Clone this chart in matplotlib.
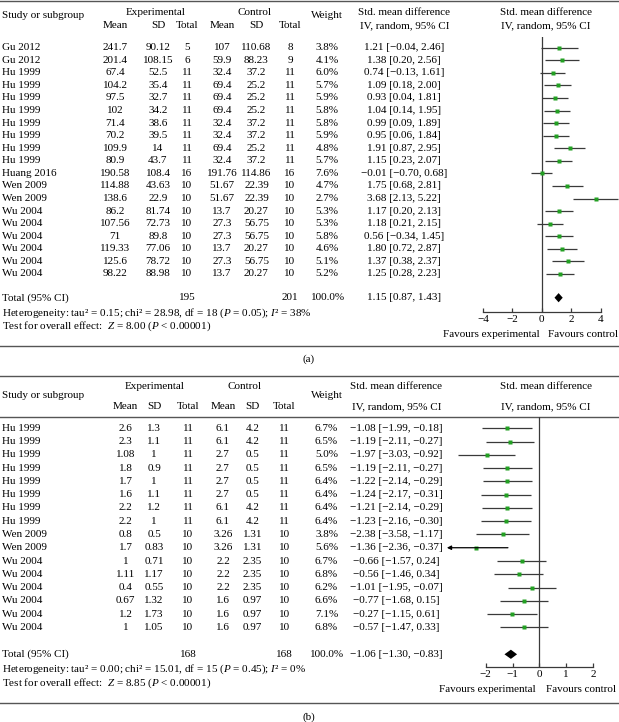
import numpy as np
import matplotlib
matplotlib.use('Agg')
import matplotlib.pyplot as plt

plt.rcParams['font.family'] = ['Liberation Serif', 'DejaVu Serif']
plt.rcParams['mathtext.fontset'] = 'custom'
plt.rcParams['mathtext.it'] = 'Liberation Serif:italic'
plt.rcParams['mathtext.rm'] = 'Liberation Serif'
FS = 8
LINE = '#3a3a3a'
GREEN = '#23a023'

# ---------------- panel (a) data ----------------
study_a = ['Gu 2012', 'Gu 2012'] + ['Hu 1999'] * 8 + ['Huang 2016', 'Wen 2009', 'Wen 2009'] + ['Wu 2004'] * 6
exp_mean_a = [241.7, 201.4, 67.4, 104.2, 97.5, 102, 71.4, 70.2, 109.9, 80.9, 190.58, 114.88, 138.6,
              86.2, 107.56, 71, 119.33, 125.6, 98.22]
exp_sd_a = [90.12, 108.15, 52.5, 35.4, 32.7, 34.2, 38.6, 39.5, 14, 43.7, 108.4, 43.63, 22.9,
            81.74, 72.73, 89.8, 77.06, 78.72, 88.98]
exp_n_a = [5, 6, 11, 11, 11, 11, 11, 11, 11, 11, 16, 10, 10, 10, 10, 10, 10, 10, 10]
ctl_mean_a = [107, 59.9, 32.4, 69.4, 69.4, 69.4, 32.4, 32.4, 69.4, 32.4, 191.76, 51.67, 51.67,
              13.7, 27.3, 27.3, 13.7, 27.3, 13.7]
ctl_sd_a = [110.68, 88.23, 37.2, 25.2, 25.2, 25.2, 37.2, 37.2, 25.2, 37.2, 114.86, 22.39, 22.39,
            20.27, 56.75, 56.75, 20.27, 56.75, 20.27]
ctl_n_a = [8, 9, 11, 11, 11, 11, 11, 11, 11, 11, 16, 10, 10, 10, 10, 10, 10, 10, 10]
weight_a = [3.8, 4.1, 6.0, 5.7, 5.9, 5.8, 5.8, 5.9, 4.8, 5.7, 7.6, 4.7, 2.7, 5.3, 5.3, 5.8, 4.6, 5.1, 5.2]
smd_a = [1.21, 1.38, 0.74, 1.09, 0.93, 1.04, 0.99, 0.95, 1.91, 1.15, -0.01, 1.75, 3.68, 1.17, 1.18, 0.56, 1.80, 1.37, 1.25]
lo_a = [-0.04, 0.20, -0.13, 0.18, 0.04, 0.14, 0.09, 0.06, 0.87, 0.23, -0.70, 0.68, 2.13, 0.20, 0.21, -0.34, 0.72, 0.38, 0.28]
hi_a = [2.46, 2.56, 1.61, 2.00, 1.81, 1.95, 1.89, 1.84, 2.95, 2.07, 0.68, 2.81, 5.22, 2.13, 2.15, 1.45, 2.87, 2.37, 2.23]
# which study each drawn row of the plot shows (as printed in the source)
drawn_a = [0, 1, 2, 3, 4, 5, 6, 7, 8, 9, 10, 11, 12, 13, 15, 14, 17, 16, 18]
total_a = (195, 201, 1.15, 0.87, 1.43)
het_a = 'Heterogeneity: tau\u00b2 = 0.15; chi\u00b2 = 28.98, df = 18 ($P$ = 0.05); $I$\u00b2 = 38%'
test_a = 'Test for overall effect:  $Z$ = 8.00 ($P$ < 0.00001)'
ticks_a = [-4, -2, 0, 2, 4]

# ---------------- panel (b) data ----------------
study_b = ['Hu 1999'] * 8 + ['Wen 2009'] * 2 + ['Wu 2004'] * 6
exp_mean_b = [2.6, 2.3, 1.08, 1.8, 1.7, 1.6, 2.2, 2.2, 0.8, 1.7, 1, 1.11, 0.4, 0.67, 1.2, 1]
exp_sd_b = [1.3, 1.1, 1, 0.9, 1, 1.1, 1.2, 1, 0.5, 0.83, 0.71, 1.17, 0.55, 1.32, 1.73, 1.05]
exp_n_b = [11] * 8 + [10] * 8
ctl_mean_b = [6.1, 6.1, 2.7, 2.7, 2.7, 2.7, 6.1, 6.1, 3.26, 3.26, 2.2, 2.2, 2.2, 1.6, 1.6, 1.6]
ctl_sd_b = [4.2, 4.2, 0.5, 0.5, 0.5, 0.5, 4.2, 4.2, 1.31, 1.31, 2.35, 2.35, 2.35, 0.97, 0.97, 0.97]
ctl_n_b = [11] * 8 + [10] * 8
weight_b = [6.7, 6.5, 5.0, 6.5, 6.4, 6.4, 6.4, 6.4, 3.8, 5.6, 6.7, 6.8, 6.2, 6.6, 7.1, 6.8]
smd_b = [-1.08, -1.19, -1.97, -1.19, -1.22, -1.24, -1.21, -1.23, -2.38, -1.36, -0.66, -0.56, -1.01, -0.77, -0.27, -0.57]
lo_b = [-1.99, -2.11, -3.03, -2.11, -2.14, -2.17, -2.14, -2.16, -3.58, -2.36, -1.57, -1.46, -1.95, -1.68, -1.15, -1.47]
hi_b = [-0.18, -0.27, -0.92, -0.27, -0.29, -0.31, -0.29, -0.30, -1.17, -0.37, 0.24, 0.34, -0.07, 0.15, 0.61, 0.33]
drawn_b = [4, 0, 2, 1, 3, 5, 6, 7, 9, 8, 10, 13, 14, 11, 12, 15]
total_b = (168, 168, -1.06, -1.30, -0.83)
het_b = 'Heterogeneity: tau\u00b2 = 0.00; chi\u00b2 = 15.01, df = 15 ($P$ = 0.45); $I$\u00b2 = 0%'
test_b = 'Test for overall effect:  $Z$ = 8.85 ($P$ < 0.00001)'
ticks_b = [-2, -1, 0, 1, 2]

W, H = 619, 722
fig = plt.figure(figsize=(W / 100, H / 100), dpi=100)
bg = fig.add_axes([0, 0, 1, 1])
bg.set_xlim(0, W)
bg.set_ylim(H, 0)
bg.axis('off')


def num(v):
    return f'{v:g}'


def ci(e, l, h):
    return f'{e:.2f} [{l:.2f}, {h:.2f}]'.replace('-', '\u2212')


def txt(x, y, s, ha='center'):
    bg.text(x, y, s, ha=ha, va='center', fontsize=FS)


def panel(L, data, ticks, drawn, clip=None):
    (study, em, es, en, cm, cs, cn, wt, smd, lo, hi, tot, het, test) = data
    # header
    txt(L['exp'], L['h1'], 'Experimental')
    txt(L['ctrl'], L['h1'], 'Control')
    txt(2, L['hm'], 'Study or subgroup', ha='left')
    txt(L['wt'], L['hm'], 'Weight')
    for x, s in zip(L['cols'], ['Mean', 'SD', 'Total'] * 2):
        txt(x, L['h2'], s)
    txt(L['ci'], L['h1'], 'Std. mean difference')
    txt(L['ci'] + 1, L['h2'], 'IV, random, 95% CI')
    txt(546, L['h1'], 'Std. mean difference')
    txt(546, L['h2'], 'IV, random, 95% CI')
    # study rows
    for i in range(len(study)):
        y = L['r0'] + i * L['dy']
        txt(2, y, study[i], ha='left')
        vals = [num(em[i]), num(es[i]), str(en[i]), num(cm[i]), num(cs[i]), str(cn[i])]
        for x, s in zip(L['cols'], vals):
            txt(x, y, s)
        txt(L['wt'], y, f'{wt[i]:.1f}%')
        txt(L['ci'], y, ci(smd[i], lo[i], hi[i]))
    # total rows
    txt(2, L['tot'], 'Total (95% CI)', ha='left')
    txt(L['cols'][2], L['tot'], str(tot[0]))
    txt(L['cols'][5], L['tot'], str(tot[1]))
    txt(L['wt'] + 1, L['tot'], '100.0%')
    txt(L['ci'], L['tot'], ci(*tot[2:]))
    txt(2, L['het'], het, ha='left')
    txt(2, L['test'], test, ha='left')
    txt(L['fav'][0], L['favy'], 'Favours experimental')
    txt(L['fav'][1], L['favy'], 'Favours control')

    # forest plot axes
    x0, x1 = 432, W
    top, bot = L['ftop'], L['axy']
    ax = fig.add_axes([x0 / W, 1 - bot / H, (x1 - x0) / W, (bot - top) / H])
    ax.patch.set_alpha(0)
    ax.set_xlim((x0 - L['zero']) / L['ppu'], (x1 - L['zero']) / L['ppu'])
    ax.set_ylim((bot - L['r0']) / L['dy'], (top - L['r0']) / L['dy'])
    for s in ['top', 'left', 'right']:
        ax.spines[s].set_visible(False)
    ax.spines['bottom'].set_bounds(ticks[0], ticks[-1])
    ax.spines['bottom'].set_color(LINE)
    ax.spines['bottom'].set_linewidth(0.9)
    ax.set_yticks([])
    ax.set_xticks(ticks)
    ax.set_xticklabels([str(t).replace('-', '\u2212') for t in ticks], fontsize=FS)
    ax.tick_params(axis='x', direction='in', length=3, width=0.9, color=LINE, pad=2.5)
    ax.axvline(0, color=LINE, lw=0.9)

    rows = np.arange(len(drawn))
    e = np.array(smd)[drawn]
    l = np.array(lo)[drawn]
    h = np.array(hi)[drawn]
    for r in rows:
        if clip is not None and l[r] < clip:
            ax.annotate('', xy=(clip, r), xytext=(h[r], r),
                        arrowprops=dict(arrowstyle='-|>', color='black', lw=0.9,
                                        mutation_scale=6, shrinkA=0, shrinkB=0))
        else:
            ax.plot([l[r], h[r]], [r, r], color=LINE, lw=0.9, solid_capstyle='butt')
    ax.plot(e, rows, 's', color=GREEN, ms=2.8, mec='none')
    ty = (L['tot'] - L['r0']) / L['dy']
    dh = 4.6 / L['dy']
    ax.fill([tot[3], tot[2], tot[4], tot[2]], [ty, ty - dh, ty, ty + dh], color='black', lw=0)
    return ax


lay_a = dict(h1=12.7, hm=16, h2=25.7, r0=47.7, dy=12.57, tot=297.7, het=313.2, test=326,
             cols=[115, 158, 187, 222, 256.5, 290], exp=155.5, ctrl=255, wt=327, ci=404,
             ftop=36.5, axy=311.7, zero=541.7, ppu=14.7, fav=(491, 583), favy=334.5)
lay_b = dict(h1=386.7, hm=396, h2=406.7, r0=428.3, dy=13.27, tot=654.3, het=669.5, test=683.5,
             cols=[125.5, 154, 188, 223, 252.5, 284.5], exp=155, ctrl=245, wt=326.5, ci=396,
             ftop=417.3, axy=666.7, zero=539.3, ppu=26.8, fav=(487.5, 581.5), favy=689.5)

panel(lay_a, (study_a, exp_mean_a, exp_sd_a, exp_n_a, ctl_mean_a, ctl_sd_a, ctl_n_a, weight_a,
              smd_a, lo_a, hi_a, total_a, het_a, test_a), ticks_a, drawn_a)
panel(lay_b, (study_b, exp_mean_b, exp_sd_b, exp_n_b, ctl_mean_b, ctl_sd_b, ctl_n_b, weight_b,
              smd_b, lo_b, hi_b, total_b, het_b, test_b), ticks_b, drawn_b, clip=-3.45)

# rules and panel labels
for y in [0.8, 345.7, 375.7, 417.3, 702.7]:
    bg.plot([0, W], [y, y], color='#555555', lw=1.0)
txt(309, 359.3, '(a)')
txt(309, 716.7, '(b)')

fig.savefig('out.png', dpi=100)
